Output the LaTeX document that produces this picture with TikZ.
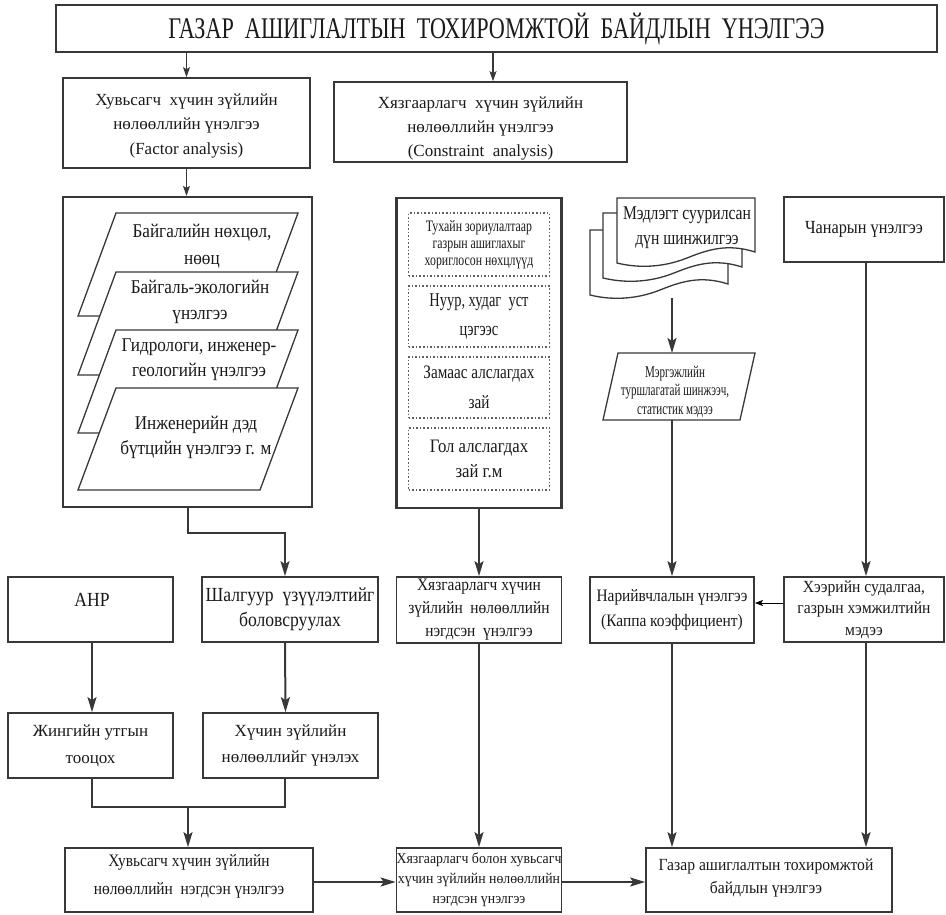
\documentclass[tikz,border=0pt]{standalone}
\usepackage{fontspec}
\setmainfont{Liberation Serif}
\newfontfamily\ffA{Liberation Serif}[FakeStretch=0.92]
\newfontfamily\ffB{Liberation Serif}[FakeStretch=0.88]
\newfontfamily\ffC{Liberation Serif}[FakeStretch=0.80]
\newfontfamily\ffD{Liberation Serif}[FakeStretch=0.74]
\newfontfamily\ffE{Liberation Serif}[FakeStretch=0.67]
\usetikzlibrary{arrows.meta}
\definecolor{lc}{HTML}{383838}
\definecolor{tc}{HTML}{1A1A1A}
\newcommand\setfs[2]{\fontsize{#1}{#2}\selectfont}
\begin{document}
\begin{tikzpicture}[x=1pt,y=-1pt,
  box/.style={draw=lc,line width=1.7pt,fill=white,inner sep=0pt,align=center,text=tc},
  outer/.style={draw=lc,line width=2.2pt,fill=white,inner sep=0pt},
  dotbox/.style={draw=lc!80,line width=1.6pt,dotted,fill=white,inner sep=0pt,align=center,text=tc},
  pl/.style={draw=lc,line width=1.3pt,fill=white,line join=miter},
  txt/.style={inner sep=0pt,align=center,text=tc},
  arr/.style={draw=lc,line width=2pt,-{Stealth[length=15pt,width=9pt,inset=3pt]}},
  arrs/.style={draw=lc,line width=1.2pt,-{Stealth[length=10pt,width=7pt,inset=2pt]}},
  arrt/.style={draw=black,line width=1pt,-{Stealth[length=8pt,width=6pt,inset=1.5pt]}},
  ln/.style={draw=lc,line width=2pt}
]
\useasboundingbox (0,0) rectangle (946,915);

% title
\node[box,minimum width=881pt,minimum height=47pt,font=\ffD\setfs{30}{32}] (title) at (496.5,28.5)
  {ГАЗАР \ АШИГЛАЛТЫН \ ТОХИРОМЖТОЙ \ БАЙДЛЫН \ ҮНЭЛГЭЭ};

% second row
\node[box,minimum width=247pt,minimum height=90pt] (fa) at (186.5,123) {};
\node[txt,font=\setfs{17}{24.5}] (faT) at (186.5,126)
  {Хувьсагч \ хүчин зүйлийн\\нөлөөллийн үнэлгээ\\(Factor analysis)};
\node[box,minimum width=293pt,minimum height=80pt] (ca) at (480.5,122) {};
\node[txt,font=\setfs{17}{24}] (caT) at (480.5,128.5)
  {Хязгаарлагч \ хүчин зүйлийн\\нөлөөллийн үнэлгээ\\(Constraint \ analysis)};

% big left box with stacked parallelograms
\node[outer,minimum width=249pt,minimum height=310pt] (bigL) at (187.5,352) {};
\draw[pl] (116,213) -- (298,213) -- (260,316) -- (78,316) -- cycle;
\draw[pl] (116,272) -- (298,272) -- (260,375) -- (78,375) -- cycle;
\draw[pl] (116,330) -- (298,330) -- (260,433) -- (78,433) -- cycle;
\draw[pl] (116,388) -- (298,388) -- (260,490) -- (78,490) -- cycle;
\node[txt,font=\ffB\setfs{19.5}{27}] (p1) at (202,246.5) {Байгалийн нөхцөл,\\нөөц};
\node[txt,font=\ffB\setfs{19.5}{26}] (p2) at (200,302) {Байгаль-экологийн\\үнэлгээ};
\node[txt,font=\ffB\setfs{19.5}{25}] (p3) at (199,359.5) {Гидрологи, инженер-\\геологийн үнэлгээ};
\node[txt,font=\ffB\setfs{19.5}{25}] (p4) at (196,437.5) {Инженерийн дэд\\бүтцийн үнэлгээ г. м};

% big middle box with dotted boxes
\node[outer,minimum width=165pt,minimum height=310pt] (bigM) at (479,353) {};
\node[dotbox,minimum width=141pt,minimum height=63pt,font=\ffD\setfs{16}{17}] (d1) at (479,244.5)
  {Тухайн зориулалтаар\\газрын ашиглахыг\\хориглосон нөхцлүүд};
\node[dotbox,minimum width=141pt,minimum height=61pt,font=\ffD\setfs{19.5}{29}] (d2) at (479,316.5)
  {Нуур, худаг \ уст\\цэгээс};
\node[dotbox,minimum width=141pt,minimum height=61pt,font=\ffC\setfs{19}{30}] (d3) at (479,387.5)
  {Замаас алслагдах\\зай};
\node[dotbox,minimum width=141pt,minimum height=62pt,font=\ffB\setfs{19}{25}] (d4) at (479,459)
  {Гол алслагдах\\зай г.м};

% multiple documents
\draw[pl] (590,230) -- (728,230) -- (728,284) .. controls (700,275) and (680,282) .. (660,290)
  .. controls (635,300) and (610,300) .. (590,295) -- cycle;
\draw[pl] (603,213) -- (742,213) -- (742,267) .. controls (714,258) and (694,265) .. (674,273)
  .. controls (649,283) and (624,283) .. (603,278) -- cycle;
\draw[pl] (617,198) -- (755,198) -- (755,252) .. controls (727,243) and (707,250) .. (687,258)
  .. controls (662,268) and (637,268) .. (617,263) -- cycle;
\node[txt,font=\ffC\setfs{19.5}{25}] (doc) at (687,227.5) {Мэдлэгт суурилсан\\дүн шинжилгээ};

% expert parallelogram
\draw[pl] (618,353) -- (755,353) -- (740,420) -- (603,420) -- cycle;
\node[txt,font=\ffE\setfs{16.5}{18.5}] (mer) at (675,391.5) {Мэргэжлийн\\туршлагатай шинжээч,\\статистик мэдээ};
\coordinate (merTop) at (672,353);
\coordinate (merBot) at (672,420);
\coordinate (docBot) at (672,298);

% quality box
\node[box,minimum width=160pt,minimum height=65pt,font=\ffB\setfs{18.5}{24}] (chan) at (864,229.5) {Чанарын үнэлгээ};

% third row
\node[box,minimum width=165pt,minimum height=65pt] (ahp) at (90.5,609.5) {};
\node[txt,font=\ffB\setfs{20}{20}] (ahpT) at (92,600) {AHP};
\node[box,minimum width=176pt,minimum height=65pt,font=\ffB\setfs{20}{25}] (shal) at (290,609.5) {Шалгуур \ үзүүлэлтийг\\боловсруулах};
\node[box,minimum width=165pt,minimum height=66pt,font=\ffB\setfs{17.5}{23}] (khn) at (479,610) {Хязгаарлагч хүчин\\зүйлийн \ нөлөөллийн\\нэгдсэн \ үнэлгээ};
\node[box,minimum width=164pt,minimum height=66pt,font=\ffB\setfs{17.5}{25}] (nar) at (672,610) {Нарийвчлалын үнэлгээ\\(Каппа коэффициент)};
\node[box,minimum width=160pt,minimum height=65pt,font=\ffA\setfs{17}{21.5}] (heer) at (864,609.5) {Хээрийн судалгаа,\\газрын хэмжилтийн\\мэдээ};

% fourth row
\node[box,minimum width=165pt,minimum height=65pt,font=\setfs{17}{27}] (jin) at (90.5,745.5) {Жингийн утгын\\тооцох};
\node[box,minimum width=175pt,minimum height=65pt,font=\setfs{17}{26}] (huch) at (290.5,745.5) {Хүчин зүйлийн\\нөлөөллийг үнэлэх};

% bottom row
\node[box,minimum width=248pt,minimum height=64pt] (b1) at (189,880) {};
\node[txt,font=\ffB\setfs{17.5}{28}] (b1T) at (189,876) {Хувьсагч хүчин зүйлийн\\нөлөөллийн \ нэгдсэн үнэлгээ};
\node[box,minimum width=165pt,minimum height=64pt,font=\ffA\setfs{15}{20}] (b2) at (479,880) {Хязгаарлагч болон хувьсагч\\хүчин зүйлийн нөлөөллийн\\нэгдсэн үнэлгээ};
\node[box,minimum width=246pt,minimum height=64pt] (b3) at (769,880) {};
\node[txt,font=\ffA\setfs{17}{23}] (b3T) at (766,877.5) {Газар ашиглалтын тохиромжтой\\байдлын үнэлгээ};

% connectors
\draw[arrs] (fa.north |- title.south) -- (fa.north);
\draw[arrs] ([xshift=12.5pt]ca.north |- title.south) -- ([xshift=12.5pt]ca.north);
\draw[arrs] (fa.south) -- (fa.south |- bigL.north);
\coordinate (bend) at (187.5,533);
\draw[arr] (bigL.south) -- (bend) -| ([xshift=-5pt]shal.north);
\draw[arr] (bigM.south) -- (khn.north);
\draw[arr] (docBot) -- (merTop);
\draw[arr] (merBot) -- (nar.north);
\draw[arr] ([xshift=2pt]chan.south) -- ([xshift=2pt]heer.north);
\draw[arrt] ([yshift=6.5pt]heer.west) -- ([yshift=6.5pt]heer.west -| nar.east);
\draw[arr] ([xshift=1.5pt]ahp.south) -- ([xshift=1.5pt]jin.north);
\draw[arr] ([xshift=-5pt]shal.south) -- ([xshift=-5pt]huch.north);
\coordinate (mrg) at (188,807);
\draw[ln] ([xshift=1.5pt]jin.south) |- (mrg) -| ([xshift=-5.5pt]huch.south);
\draw[arr] (mrg) -- (mrg |- b1.north);
\draw[arr] (khn.south) -- (b2.north);
\draw[arr] (nar.south) -- (nar.south |- b3.north);
\draw[arr] ([xshift=2pt]heer.south) -- ([xshift=2pt]heer.south |- b3.north);
\draw[arr] ([yshift=-2pt]b1.east) -- ([yshift=-2pt]b2.west);
\draw[arr] ([yshift=-2pt]b2.east) -- ([yshift=-2pt]b3.west);
\end{tikzpicture}
\end{document}
